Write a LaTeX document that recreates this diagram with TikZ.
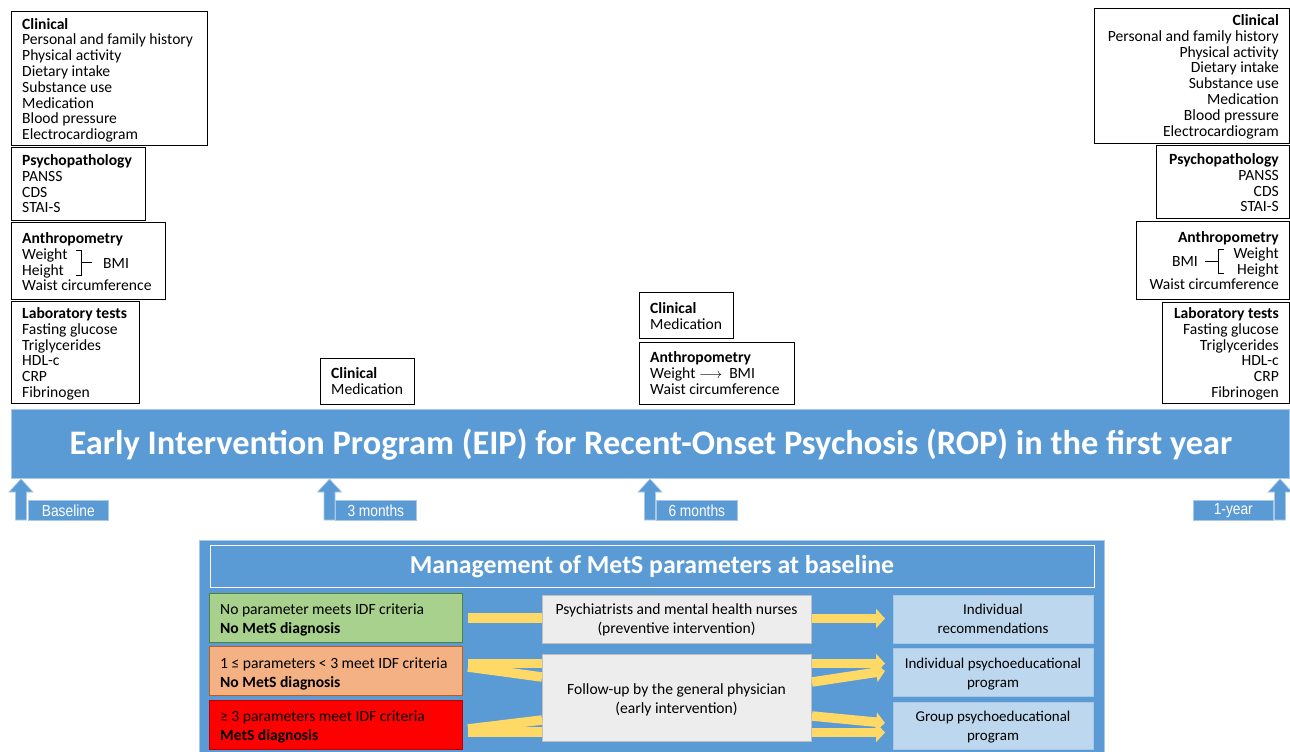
\documentclass[tikz,border=0pt]{standalone}
\usepackage{fontspec}
\setmainfont{Carlito}
\newfontfamily\narrowfont[FakeStretch=0.86]{Liberation Sans}
\usetikzlibrary{arrows.meta}
\definecolor{eipblue}{HTML}{5B9BD5}
\definecolor{eipedge}{HTML}{A9C8E8}
\definecolor{yel}{HTML}{FFD966}
\definecolor{grnfill}{HTML}{A9D18E}
\definecolor{grnedge}{HTML}{548235}
\definecolor{orfill}{HTML}{F4B183}
\definecolor{oredge}{HTML}{C55A11}
\definecolor{redfill}{HTML}{FF0000}
\definecolor{rededge}{HTML}{C00000}
\definecolor{greyfill}{HTML}{EDEDED}
\definecolor{greyedge}{HTML}{BFBFBF}
\definecolor{ltblue}{HTML}{BDD7EE}
\begin{document}
\begin{tikzpicture}[x=1pt,y=-1pt,
  frame/.style={draw=black, line width=0.9pt, inner sep=0pt, anchor=north west},
  txt/.style={inner sep=0pt, font=\fontsize{15.6}{15.8}\selectfont},
  rtxt/.style={inner sep=0pt, font=\fontsize{15.6}{19}\selectfont},
  otxt/.style={inner sep=0pt, font=\fontsize{15}{19}\selectfont},
  tlabel/.style={fill=eipblue, draw=eipedge, line width=0.6pt, text=white, inner sep=0pt,
     anchor=north west, minimum height=20pt, font=\narrowfont\fontsize{16}{16}\selectfont},
  rowbox/.style={line width=1pt, inner sep=0pt, anchor=north west, minimum width=253pt, minimum height=49pt},
  greybox/.style={fill=greyfill, draw=greyedge, line width=1pt, inner sep=0pt, anchor=north west, minimum width=269pt},
  outbox/.style={fill=ltblue, draw=eipedge, line width=0.6pt, inner sep=0pt, anchor=north west, minimum width=200pt, minimum height=48pt},
  yband/.style={draw=yel, line width=9.5pt},
  yarrow/.style={draw=yel, line width=9.5pt, -{Triangle[length=9pt, width=19pt]}},
  bracket/.style={draw=black, line width=0.8pt}
]
\useasboundingbox (0,0) rectangle (1290,752);

% ---------- Baseline (left) ----------
\node[frame, minimum width=196pt, minimum height=134pt] (clinL) at (11,11) {};
\node[txt, anchor=base west, align=left] (clinLt) at (22,139.6) {\textbf{Clinical}\\Personal and family history\\Physical activity\\Dietary intake\\Substance use\\Medication\\Blood pressure\\Electrocardiogram};
\node[frame, minimum width=134pt, minimum height=73pt] (psyL) at (11,147) {};
\node[txt, anchor=base west, align=left] (psyLt) at (22,212.9) {\textbf{Psychopathology}\\PANSS\\CDS\\STAI-S};
\node[frame, minimum width=154pt, minimum height=77pt] (antL) at (11,222) {};
\node[txt, anchor=base west, align=left] (antLt) at (22,290.9) {\textbf{Anthropometry}\\Weight\\Height\\Waist circumference};
\draw[bracket] (76,250) -- (81,250) -- (81,275) -- (76,275);
\draw[bracket] (81,262.5) -- (92,262.5);
\node[txt, anchor=west] (bmiL) at (103,263) {BMI};
\node[frame, minimum width=128pt, minimum height=102pt] (labL) at (11,301) {};
\node[txt, anchor=base west, align=left] (labLt) at (22,397.5) {\textbf{Laboratory tests}\\Fasting glucose\\Triglycerides\\HDL-c\\CRP\\Fibrinogen};

% ---------- 3 months ----------
\node[frame, minimum width=94pt, minimum height=46pt] (clin3) at (320,358) {};
\node[txt, anchor=base west, align=left] (clin3t) at (331,394.3) {\textbf{Clinical}\\Medication};

% ---------- 6 months ----------
\node[frame, minimum width=94pt, minimum height=46pt] (clin6) at (639,292) {};
\node[txt, anchor=base west, align=left] (clin6t) at (650,329.3) {\textbf{Clinical}\\Medication};
\node[frame, minimum width=155pt, minimum height=62pt] (ant6) at (639,342) {};
\node[txt, anchor=base west, align=left] (ant6t) at (650,394.1) {\textbf{Anthropometry}\\Weight $\longrightarrow$\ \ BMI\\Waist circumference};

% ---------- 1 year (right) ----------
\node[frame, minimum width=195pt, minimum height=135pt] (clinR) at (1094,8) {};
\node[txt, anchor=base east, align=right] (clinRt) at (1279,136.1) {\textbf{Clinical}\\Personal and family history\\Physical activity\\Dietary intake\\Substance use\\Medication\\Blood pressure\\Electrocardiogram};
\node[frame, minimum width=133pt, minimum height=73pt] (psyR) at (1156,145) {};
\node[txt, anchor=base east, align=right] (psyRt) at (1279,211.9) {\textbf{Psychopathology}\\PANSS\\CDS\\STAI-S};
\node[frame, minimum width=153pt, minimum height=78pt] (antR) at (1136,221) {};
\node[txt, anchor=base east, align=right] (antRt) at (1279,289.9) {\textbf{Anthropometry}\\Weight\\Height\\Waist circumference};
\draw[bracket] (1224,249) -- (1218,249) -- (1218,273) -- (1224,273);
\draw[bracket] (1205,261) -- (1218,261);
\node[txt, anchor=east] (bmiR) at (1198,261.5) {BMI};
\node[frame, minimum width=127pt, minimum height=101pt] (labR) at (1162,302) {};
\node[txt, anchor=base east, align=right] (labRt) at (1279,397.5) {\textbf{Laboratory tests}\\Fasting glucose\\Triglycerides\\HDL-c\\CRP\\Fibrinogen};

% ---------- Timeline bar ----------
\node[fill=eipblue, draw=eipedge, line width=0.6pt, inner sep=0pt, anchor=north west,
  minimum width=1278pt, minimum height=69pt] (bar) at (11,409) {};
\node[text=white, inner sep=0pt, font=\bfseries\fontsize{34.4}{34.4}\selectfont] (bartxt) at (651,444.5)
  {Early Intervention Program (EIP) for Recent-Onset Psychosis (ROP) in the first year};

\foreach \c in {21,329.5,650,1280} {
  \filldraw[fill=eipblue, draw=eipedge, line width=0.6pt]
    (\c-5.5,520) -- (\c-5.5,492) -- (\c-12,492) -- (\c,479) -- (\c+12,492) -- (\c+5.5,492) -- (\c+5.5,520) -- cycle;
}
\node[tlabel, minimum width=80pt] (t0) at (28,500) {Baseline};
\node[tlabel, minimum width=81pt] (t3) at (335,500) {3 months};
\node[tlabel, minimum width=81pt] (t6) at (656,500) {6 months};
\node[tlabel, minimum width=80pt] (t12) at (1193,500) {1-year};

% ---------- Management panel ----------
\node[fill=eipblue, draw=eipedge, line width=0.8pt, inner sep=0pt, anchor=north west,
  minimum width=905pt, minimum height=214pt] (panel) at (199,540) {};
\node[draw=white, line width=1pt, inner sep=0pt, anchor=north west, minimum width=884pt,
  minimum height=42pt] (ptitle) at (210,545) {};
\node[text=white, inner sep=0pt, font=\bfseries\fontsize{25.8}{25.8}\selectfont] (ptitletxt) at (652,566.5)
  {Management of MetS parameters at baseline};

\node[rowbox, fill=grnfill, draw=grnedge] (grn) at (209,593) {};
\node[rtxt, anchor=base west, align=left] (grnt) at (220,633) {No parameter meets IDF criteria\\\textbf{No MetS diagnosis}};
\node[rowbox, fill=orfill, draw=oredge] (org) at (209,646) {};
\node[rtxt, anchor=base west, align=left] (orgt) at (220,687.5) {1 ≤ parameters < 3 meet IDF criteria\\\textbf{No MetS diagnosis}};
\node[rowbox, fill=redfill, draw=rededge] (red) at (209,700) {};
\node[rtxt, anchor=base west, align=left] (redt) at (220,740) {≥ 3 parameters meet IDF criteria\\\textbf{MetS diagnosis}};

\node[greybox, minimum height=48pt] (gr1) at (542,595) {};
\node[rtxt, anchor=base, align=center] (gr1t) at (676.5,633) {Psychiatrists and mental health nurses\\(preventive intervention)};
\node[greybox, minimum height=87pt] (gr2) at (542,654) {};
\node[rtxt, anchor=base, align=center] (gr2t) at (676.5,713.5) {Follow-up by the general physician\\(early intervention)};

\node[outbox] (o1) at (893,595) {};
\node[otxt, anchor=base, align=center] (o1t) at (993,633) {Individual\\recommendations};
\node[outbox] (o2) at (893,648) {};
\node[otxt, anchor=base, align=center] (o2t) at (993,687) {Individual psychoeducational\\program};
\node[outbox, minimum height=47pt] (o3) at (893,702) {};
\node[otxt, anchor=base, align=center] (o3t) at (993,740) {Group psychoeducational\\program};

% yellow bands into the grey boxes
\coordinate (gs) at (468,618);
\coordinate (os1) at (468,663.5);
\coordinate (os2) at (468,667);
\coordinate (oe2) at (542,677);
\coordinate (rs1) at (468,732);
\coordinate (rs2) at (468,729);
\coordinate (re2) at (542,720);
\draw[yband] (gs) -- (gr1.west |- gs);
\draw[yband] (os1) -- (gr2.west |- os1);
\draw[yband] (os2) -- (oe2);
\draw[yband] (rs1) -- (gr2.west |- rs1);
\draw[yband] (rs2) -- (re2);

% yellow arrows into the outcome boxes
\coordinate (a1) at (885,618.5);
\coordinate (a2) at (885,663.5);
\coordinate (a3s) at (812,682);
\coordinate (a3) at (885,671);
\coordinate (a4s) at (812,716);
\coordinate (a4) at (885,723);
\coordinate (a5) at (885,732.5);
\draw[yarrow] (gr1.east |- a1) -- (a1);
\draw[yarrow] (gr2.east |- a2) -- (a2);
\draw[yarrow] (a3s) -- (a3);
\draw[yarrow] (a4s) -- (a4);
\draw[yarrow] (gr2.east |- a5) -- (a5);
\end{tikzpicture}
\end{document}
